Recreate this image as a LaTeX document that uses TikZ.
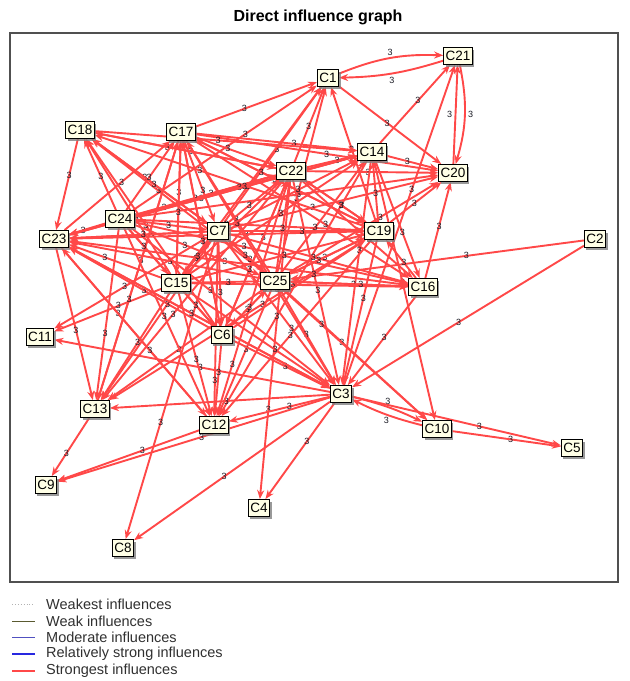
\documentclass[tikz,border=0pt]{standalone}
\usepackage{fontspec}
\setmainfont{Liberation Sans}
\usetikzlibrary{arrows.meta,shadows}
\pgfdeclarelayer{edges}
\pgfsetlayers{edges,main}
\definecolor{edgered}{HTML}{FF4848}
\definecolor{nodefill}{HTML}{FFFFE6}
\definecolor{framegray}{HTML}{505050}
\definecolor{labtext}{HTML}{1A1A24}
\definecolor{legtext}{HTML}{303030}
\definecolor{weakc}{HTML}{5A5A30}
\definecolor{modc}{HTML}{5050C0}
\definecolor{strongc}{HTML}{2828E0}
\tikzset{
  cnode/.style={draw=black, line width=0.9pt, fill=nodefill, rectangle,
    inner xsep=2pt, inner ysep=1.5pt, minimum height=17pt,
    font=\fontsize{13.5}{13.5}\selectfont,
    drop shadow={shadow xshift=2pt, shadow yshift=-2pt, fill=black!50, opacity=0.8}},
  edge/.style={draw=edgered, line width=1.9pt, -{Stealth[length=9pt,width=7pt]}},
  lab/.style={font=\fontsize{9}{9}\selectfont, text=labtext, inner sep=0.5pt},
  legtxt/.style={anchor=west, font=\fontsize{14.5}{14.5}\selectfont, text=legtext, inner sep=0pt}
}
\begin{document}
\begin{tikzpicture}[x=1pt,y=-1pt]
\useasboundingbox (0,0) rectangle (630,681);
% title and frame
\node[font=\bfseries\fontsize{16}{16}\selectfont] (title) at (318,17) {Direct influence graph};
\draw[framegray, line width=1.1pt] (10,33) rectangle (618,582);
% nodes
\node[cnode] (C1) at (328,78) {C1};
\node[cnode] (C21) at (458,56) {C21};
\node[cnode] (C18) at (80,130) {C18};
\node[cnode] (C17) at (181,132) {C17};
\node[cnode] (C14) at (372,152) {C14};
\node[cnode] (C22) at (291,171) {C22};
\node[cnode] (C20) at (453,173) {C20};
\node[cnode] (C24) at (120,219) {C24};
\node[cnode] (C7) at (218,231) {C7};
\node[cnode] (C19) at (379,231) {C19};
\node[cnode] (C23) at (54,239) {C23};
\node[cnode] (C2) at (595,239) {C2};
\node[cnode] (C15) at (176,283) {C15};
\node[cnode] (C25) at (275,281) {C25};
\node[cnode] (C16) at (423,287) {C16};
\node[cnode] (C11) at (40,337) {C11};
\node[cnode] (C6) at (222,335) {C6};
\node[cnode] (C3) at (341,394) {C3};
\node[cnode] (C13) at (95,409) {C13};
\node[cnode] (C12) at (214,425) {C12};
\node[cnode] (C10) at (437,429) {C10};
\node[cnode] (C5) at (572,448) {C5};
\node[cnode] (C9) at (46,485) {C9};
\node[cnode] (C4) at (259,508) {C4};
\node[cnode] (C8) at (123,548) {C8};
% edges
\begin{pgfonlayer}{edges}
\draw[edge] (C1) to[bend left=12] node[lab,midway,above=1pt]{3} (C21);
\draw[edge] (C21) to[bend left=8] node[lab,midway,below=2pt]{3} (C1);
\draw[edge] (C21) to[bend left=14] node[lab,midway,right=2pt]{3} (C20);
\draw[edge] (C20) -- node[lab,midway,left=2pt]{3} (C21);
\draw[edge] (C3) to[bend left=6] node[lab,midway,above=1pt]{3} (C10);
\draw[edge] (C10) to[bend left=6] node[lab,midway,below=1pt]{3} (C3);
\draw[edge] (C7) -- node[lab,pos=0.8]{3} (C12);
\draw[edge] (C22) -- node[lab,pos=0.78]{3} (C12);
\draw[edge] (C22) -- node[lab,pos=0.72]{3} (C4);
\foreach \s/\t [count=\i] in {
C1/C20, C14/C21, C3/C21,
C17/C1, C22/C1, C7/C1, C24/C1, C25/C1, C15/C1, C19/C1,
C17/C14, C17/C22, C17/C19, C17/C20, C17/C16,
C14/C20, C19/C20, C16/C20, C25/C20, C7/C20, C22/C20, C24/C20,
C14/C16, C14/C3, C14/C10, C14/C23, C14/C12,
C18/C23, C24/C18, C7/C18, C25/C18, C15/C18, C22/C18, C6/C18, C19/C18,
C18/C22, C18/C14, C18/C7,
C24/C23, C7/C23, C25/C23, C22/C23, C15/C23, C19/C23, C6/C23, C16/C23, C12/C23, C3/C23,
C24/C17, C23/C17, C15/C17, C25/C17, C6/C17, C13/C17, C19/C17,
C15/C11, C3/C11, C7/C11,
C24/C13, C7/C13, C15/C13, C25/C13, C22/C13, C19/C13, C3/C13, C23/C13, C17/C13,
C6/C12, C25/C12, C15/C12, C23/C12, C3/C12, C24/C12, C19/C12,
C13/C9, C12/C9, C3/C9,
C3/C8, C7/C8,
C3/C4,
C25/C3, C6/C3, C7/C3, C19/C3, C16/C3, C22/C3, C15/C3, C24/C3, C23/C3, C2/C3, C17/C3,
C25/C10, C7/C10,
C10/C5, C3/C5,
C2/C25,
C7/C16, C25/C16, C22/C16, C24/C16, C15/C16,
C7/C19, C22/C19, C24/C19, C25/C19, C15/C19, C6/C19, C16/C19,
C24/C7, C23/C7, C17/C7, C25/C7, C15/C7,
C24/C22, C23/C22, C7/C22, C25/C22, C15/C22, C6/C22, C19/C22,
C24/C14, C7/C14, C22/C14, C25/C14, C19/C14, C15/C14, C23/C14,
C24/C25, C7/C25, C15/C25, C19/C25, C16/C25, C6/C25,
C24/C6, C7/C6, C15/C6, C25/C6, C17/C6, C22/C6,
C24/C15, C7/C15, C17/C15}
  {
  \pgfmathsetmacro{\p}{0.4+0.07*mod(\i,4)}
  \draw[edge] (\s) -- node[lab,pos=\p]{3} (\t);
  }
\end{pgfonlayer}
% legend
\coordinate (la1) at (12,604); \coordinate (lb1) at (35,604);
\coordinate (la2) at (12,621); \coordinate (lb2) at (35,621);
\coordinate (la3) at (12,637); \coordinate (lb3) at (35,637);
\coordinate (la4) at (12,654); \coordinate (lb4) at (35,654);
\coordinate (la5) at (12,671); \coordinate (lb5) at (35,671);
\draw[black!30, line width=0.9pt, dotted] (la1) -- (lb1);
\draw[weakc, line width=0.9pt] (la2) -- (lb2);
\draw[modc, line width=0.9pt] (la3) -- (lb3);
\draw[strongc, line width=1.7pt] (la4) -- (lb4);
\draw[edgered, line width=2pt] (la5) -- (lb5);
\node[legtxt] (t1) at (46,604) {Weakest influences};
\node[legtxt] (t2) at (46,621) {Weak influences};
\node[legtxt] (t3) at (46,637) {Moderate influences};
\node[legtxt] (t4) at (46,654) {Relatively strong influences};
\node[legtxt] (t5) at (46,671) {Strongest influences};
\end{tikzpicture}
\end{document}
